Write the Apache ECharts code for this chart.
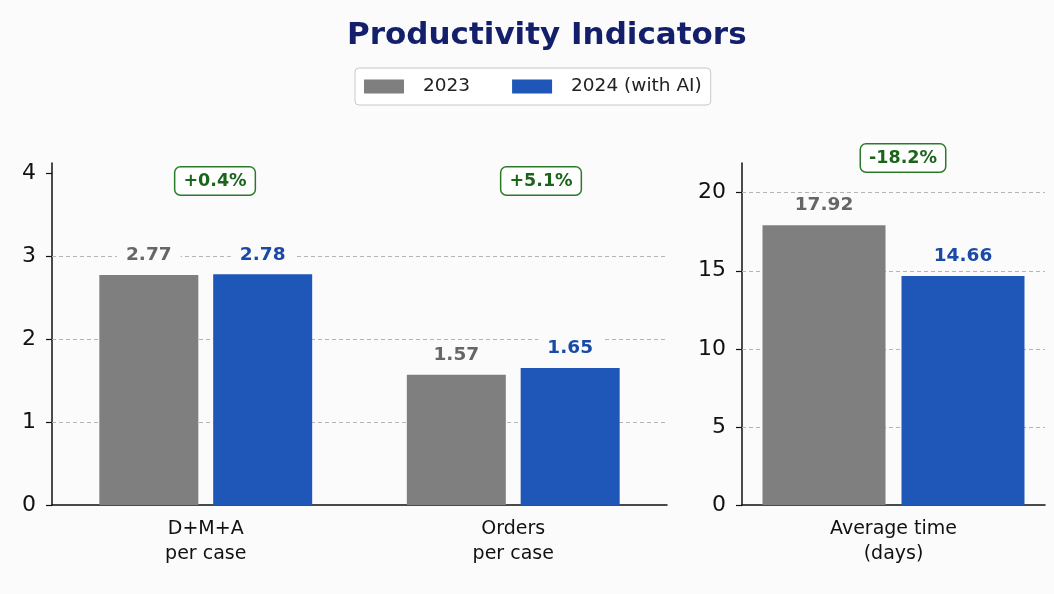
<!DOCTYPE html>
<html>
<head>
<meta charset="utf-8">
<script src="https://cdn.jsdelivr.net/npm/echarts@6/dist/echarts.min.js"></script>
<style>
  html, body { margin: 0; padding: 0; background: #fbfbfb; }
  #chart { width: 1054px; height: 594px; }
</style>
</head>
<body>
<div id="chart"></div>
<script>
// data
var leftCategories = ['D+M+A\nper case', 'Orders\nper case'];
var left2023 = [2.77, 1.57];
var left2024 = [2.78, 1.65];
var leftChanges = ['+0.4%', '+5.1%'];
var leftTicks = [0, 1, 2, 3, 4];
var leftGrid = [1, 2, 3];

var rightCategories = ['Average time\n(days)'];
var right2023 = [17.92];
var right2024 = [14.66];
var rightChanges = ['-18.2%'];
var rightTicks = [0, 5, 10, 15, 20];
var rightGrid = [5, 10, 15, 20];

var grayColor = '#7f7f7f';
var blueColor = '#1f57b8';
var font = 'DejaVu Sans';

var chart = echarts.init(document.getElementById('chart'));

function valueLabel(color) {
    return {
        show: true,
        position: 'top',
        distance: 8,
        formatter: function (p) { return p.value.toFixed(2); },
        color: color,
        fontFamily: font,
        fontWeight: 'bold',
        fontSize: 18.5,
        backgroundColor: '#fbfbfb',
        padding: [2, 9]
    };
}

function gridLines(values) {
    return {
        silent: true,
        symbol: 'none',
        z: 1,
        label: { show: false },
        lineStyle: { type: [4, 3], color: '#b5b5b5', width: 1 },
        data: values.map(function (v) { return { yAxis: v }; })
    };
}

function yAxis(idx, max, ticks) {
    return {
        type: 'value',
        gridIndex: idx,
        min: 0,
        max: max,
        axisLine: { show: true, lineStyle: { color: '#111', width: 1.5 } },
        axisTick: { show: true, length: 6, customValues: ticks, lineStyle: { color: '#111', width: 1.2 } },
        axisLabel: { customValues: ticks, color: '#111', fontFamily: font, fontSize: 22, margin: 16 },
        splitLine: { show: false }
    };
}

function xAxis(idx, cats) {
    return {
        type: 'category',
        gridIndex: idx,
        data: cats,
        axisLine: { show: true, lineStyle: { color: '#111', width: 1.5 } },
        axisTick: { show: false },
        axisLabel: { color: '#111', fontFamily: font, fontSize: 19, lineHeight: 25, margin: 12 }
    };
}

function badge(text, x, y) {
    return {
        type: 'text',
        x: x,
        y: y,
        z: 10,
        style: {
            text: text,
            align: 'center',
            verticalAlign: 'middle',
            fill: '#1b651b',
            font: 'bold 17.5px "DejaVu Sans"',
            backgroundColor: '#ffffff',
            borderColor: '#2a7a2a',
            borderWidth: 1.5,
            borderRadius: 5,
            padding: [5, 8, 4, 8]
        }
    };
}

var option = {
    backgroundColor: '#fbfbfb',
    animation: false,
    title: {
        text: 'Productivity Indicators',
        left: 342,
        top: 15,
        textStyle: { color: '#131f6b', fontFamily: font, fontWeight: 'bold', fontSize: 31 }
    },
    legend: {
        data: ['2023', '2024 (with AI)'],
        left: 355,
        top: 68,
        icon: 'rect',
        itemWidth: 40,
        itemHeight: 14,
        itemGap: 42,
        padding: [9, 9, 9, 9],
        borderColor: '#c8c8c8',
        borderWidth: 1,
        borderRadius: 4,
        backgroundColor: '#ffffff',
        textStyle: { color: '#222', fontFamily: font, fontSize: 18.5, padding: [0, 0, 0, 14] }
    },
    grid: [
        { left: 52, right: 387, top: 163, bottom: 89 },
        { left: 742, right: 9, top: 163, bottom: 89 }
    ],
    xAxis: [xAxis(0, leftCategories), xAxis(1, rightCategories)],
    yAxis: [yAxis(0, 4.12, leftTicks), yAxis(1, 21.9, rightTicks)],
    graphic: [
        badge(leftChanges[0], 215, 181),
        badge(leftChanges[1], 541, 181),
        badge(rightChanges[0], 903, 158)
    ],
    series: [
        {
            name: '2023', type: 'bar', xAxisIndex: 0, yAxisIndex: 0, z: 2,
            data: left2023, barWidth: 99, barGap: '15%',
            itemStyle: { color: grayColor },
            label: valueLabel('#666666'),
            markLine: gridLines(leftGrid)
        },
        {
            name: '2024 (with AI)', type: 'bar', xAxisIndex: 0, yAxisIndex: 0, z: 2,
            data: left2024, barWidth: 99, barGap: '15%',
            itemStyle: { color: blueColor },
            label: valueLabel('#1a4aa8')
        },
        {
            name: '2023', type: 'bar', xAxisIndex: 1, yAxisIndex: 1, z: 2,
            data: right2023, barWidth: 123, barGap: '13%',
            itemStyle: { color: grayColor },
            label: valueLabel('#666666'),
            markLine: gridLines(rightGrid)
        },
        {
            name: '2024 (with AI)', type: 'bar', xAxisIndex: 1, yAxisIndex: 1, z: 2,
            data: right2024, barWidth: 123, barGap: '13%',
            itemStyle: { color: blueColor },
            label: valueLabel('#1a4aa8')
        }
    ]
};

chart.setOption(option);
</script>
</body>
</html>
